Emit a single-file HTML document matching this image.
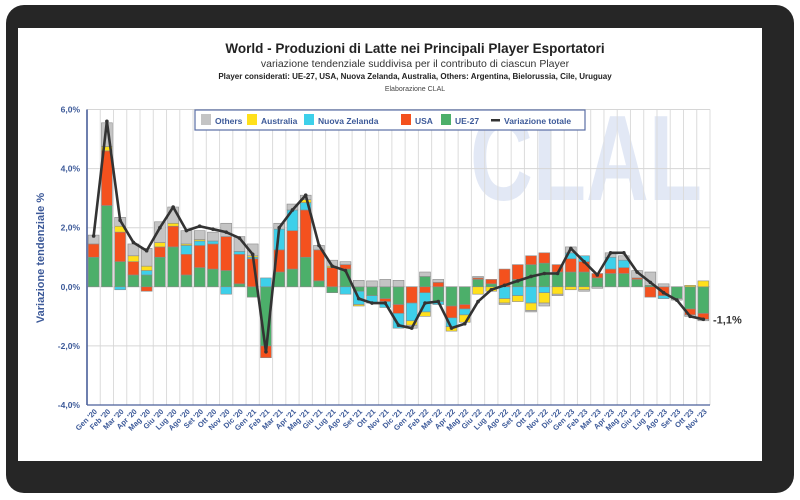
<!DOCTYPE html>
<html><head><meta charset="utf-8">
<style>
body{margin:0;background:#fff;font-family:"Liberation Sans",sans-serif;}
#wrap{position:relative;width:800px;height:500px;overflow:hidden;background:#fff;}
</style></head>
<body>
<div id="wrap">
<svg id="chart" width="800" height="500" viewBox="0 0 800 500">
  <rect x="6" y="5" width="788" height="488" rx="18" fill="#262626"/>
  <rect x="18" y="28" width="744" height="433" fill="#ffffff"/>
  <text x="470" y="200" textLength="232" lengthAdjust="spacingAndGlyphs" font-family="Liberation Sans, sans-serif" font-weight="bold" font-size="122" fill="#e2e8f5">CLAL</text>
  <text x="415" y="53" text-anchor="middle" font-size="13.5" font-weight="bold" fill="#222">World - Produzioni di Latte nei Principali Player Esportatori</text>
  <text x="415" y="67" text-anchor="middle" font-size="10.5" fill="#333">variazione tendenziale suddivisa per il contributo di ciascun Player</text>
  <text x="415" y="79" text-anchor="middle" font-size="8" font-weight="bold" fill="#222">Player considerati: UE-27, USA, Nuova Zelanda, Australia, Others: Argentina, Bielorussia, Cile, Uruguay</text>
  <text x="415" y="91" text-anchor="middle" font-size="7" fill="#444">Elaborazione CLAL</text>
  <g id="grid"></g>
  <g id="bars"></g>
  <g id="line"></g>
  <g id="axes"></g>
  <text x="44" y="258" transform="rotate(-90 44 258)" text-anchor="middle" font-size="11" font-weight="bold" fill="#3d5a99">Variazione tendenziale %</text>
  <g>
    <rect x="195" y="110" width="390" height="20" fill="#fff" stroke="#5a6ea5" stroke-width="1.2"/>
    <g><rect x="201" y="114" width="10" height="11" fill="#c4c4c4"/><text x="215" y="124" font-size="8.5" font-weight="bold" fill="#3d5a99">Others</text></g>
    <g><rect x="247" y="114" width="10" height="11" fill="#ffe01b"/><text x="261" y="124" font-size="8.5" font-weight="bold" fill="#3d5a99">Australia</text></g>
    <g><rect x="304" y="114" width="10" height="11" fill="#3dd0ea"/><text x="318" y="124" font-size="8.5" font-weight="bold" fill="#3d5a99">Nuova Zelanda</text></g>
    <g><rect x="401" y="114" width="10" height="11" fill="#f4511e"/><text x="415" y="124" font-size="8.5" font-weight="bold" fill="#3d5a99">USA</text></g>
    <g><rect x="441" y="114" width="10" height="11" fill="#4caf6a"/><text x="455" y="124" font-size="8.5" font-weight="bold" fill="#3d5a99">UE-27</text></g>
    <g><rect x="491" y="119" width="9" height="2.5" fill="#333"/><text x="504" y="124" font-size="8.5" font-weight="bold" fill="#3d5a99">Variazione totale</text></g>
  </g>
  <text id="lastLabel" x="713" y="323" font-size="11" font-weight="bold" fill="#333">-1,1%</text>
</svg>
</div>
<script>
const categories = ["Gen '20","Feb '20","Mar '20","Apr '20","Mag '20","Giu '20","Lug '20","Ago '20","Set '20","Ott '20","Nov '20","Dic '20",
"Gen '21","Feb '21","Mar '21","Apr '21","Mag '21","Giu '21","Lug '21","Ago '21","Set '21","Ott '21","Nov '21","Dic '21",
"Gen '22","Feb '22","Mar '22","Apr '22","Mag '22","Giu '22","Lug '22","Ago '22","Set '22","Ott '22","Nov '22","Dic '22",
"Gen '23","Feb '23","Mar '23","Apr '23","Mag '23","Giu '23","Lug '23","Ago '23","Set '23","Ott '23","Nov '23"];
const ue27 = [1.0,2.75,0.85,0.4,0.4,1.0,1.35,0.4,0.65,0.6,0.55,0.1,
-0.35,-2.0,0.5,0.6,1.0,0.2,-0.2,0.6,-0.15,-0.3,-0.4,-0.6,
0,0.35,-0.5,-0.65,-0.6,0.25,0.1,0,0.25,0.75,0.8,0.5,
0.5,0.5,0.3,0.45,0.45,0.25,0.05,0,-0.4,-0.75,-0.9];
const usa = [0.45,1.85,1.0,0.45,-0.15,0.35,0.7,0.7,0.75,0.85,1.15,1.0,
0.95,-0.4,0.75,1.3,1.6,1.05,0.65,0.15,0,0,-0.1,-0.3,
-0.55,-0.2,0.15,-0.4,-0.15,0.05,0.15,0.6,0.5,0.3,0.35,0.25,
0.45,0.35,0.15,0.15,0.2,0.05,-0.35,-0.3,0,-0.2,-0.2];
const nz = [0,0,-0.1,0,0.15,0,0,0.3,0.15,0.1,-0.25,0.1,
0.05,0.3,0.7,0.7,0.25,0,0,-0.25,-0.45,-0.25,-0.2,-0.5,
-0.6,-0.65,-0.1,-0.3,-0.2,0,0,-0.4,-0.3,-0.55,-0.2,0,
0.2,0.2,0,0.4,0.25,0,0,-0.1,0,0,0];
const australia = [0,0.15,0.2,0.2,0.15,0.15,0.1,0.05,0.05,0,0,0,
0.05,0,0,0,0.1,0,0.05,0,-0.05,0,0,0,
-0.15,-0.15,0,-0.15,-0.25,-0.25,-0.15,-0.15,-0.2,-0.25,-0.35,-0.25,
-0.1,-0.1,0,0,0,0,0,0,0,0.05,0.2];
const others = [0.3,0.8,0.3,0.4,0.6,0.7,0.55,0.45,0.3,0.3,0.45,0.5,
0.4,0,0.2,0.2,0.15,0.15,0.2,0.1,0.22,0.2,0.25,0.22,
-0.1,0.15,0.1,0,0,0.05,0,-0.05,0,-0.05,-0.1,-0.05,
0.2,-0.05,-0.05,0.15,0.15,0.25,0.45,0.1,-0.05,-0.05,-0.05];
const totale = [1.72,5.6,2.25,1.5,1.22,2.0,2.7,1.9,2.05,1.95,1.85,1.65,
1.1,-2.2,2.0,2.6,3.1,1.4,0.7,0.55,-0.4,-0.55,-0.55,-1.3,
-1.4,-0.55,-0.5,-1.4,-1.25,-0.5,-0.1,0.05,0.2,0.35,0.45,0.45,
1.3,0.85,0.4,1.15,1.15,0.5,0.15,-0.2,-0.45,-1.0,-1.1];
const yTicks = [6,4,2,0,-2,-4];
const yTickLabels = ["6,0%","4,0%","2,0%","0,0%","-2,0%","-4,0%"];

const NS="http://www.w3.org/2000/svg";
const x0=87, x1=710, yTop=109.5, yBot=405, vMax=6, vMin=-4;
const slot=(x1-x0)/categories.length;
function yS(v){return yTop+(vMax-v)/(vMax-vMin)*(yBot-yTop);}
function xS(i){return x0+slot*(i+0.5);}
function mk(tag,attrs,parent){const e=document.createElementNS(NS,tag);for(const k in attrs)e.setAttribute(k,attrs[k]);parent.appendChild(e);return e;}

const grid=document.getElementById('grid'), barsG=document.getElementById('bars'), lineG=document.getElementById('line'), axes=document.getElementById('axes');
for(let i=0;i<=categories.length;i++){
  const l=mk('line',{x1:x0+slot*i,x2:x0+slot*i,y1:yTop,y2:yBot,stroke:'#dcdcdc','stroke-width':1},grid);
  
  
}
yTicks.forEach((v,k)=>{
  const l=mk('line',{x1:x0,x2:x1,y1:yS(v),y2:yS(v),stroke:'#d6d6d6','stroke-width':1},grid);
  
  
  const t=mk('text',{x:80,y:yS(v)+3,'text-anchor':'end','font-size':'8.5','font-weight':'bold',fill:'#3d5a99'},axes);
  t.textContent=yTickLabels[k];
  
  
});
const series=[['ue27',ue27,'#4caf6a'],['usa',usa,'#f4511e'],['nz',nz,'#3dd0ea'],['australia',australia,'#ffe01b'],['others',others,'#c4c4c4']];
const bw=slot*0.82;
categories.forEach((c,i)=>{
  let pos=0,neg=0;
  series.forEach(([nm,arr,col])=>{
    const v=arr[i]; if(!v)return;
    let a,b;
    if(v>0){a=pos;b=pos+v;pos=b;}else{a=neg;b=neg+v;neg=b;}
    const r=mk('rect',{x:xS(i)-bw/2,y:Math.min(yS(a),yS(b)),width:bw,height:Math.abs(yS(a)-yS(b)),fill:col,stroke:'#8a8a8a','stroke-width':0.6},barsG);
    
    
  });
  const t=mk('text',{x:0,y:0,'text-anchor':'end','font-size':'7.5','font-weight':'bold',fill:'#3d5a99',transform:`translate(${xS(i)+4},${yBot+7}) rotate(-45)`},axes);
  t.textContent=c;
  
  
});
const pts=totale.map((v,i)=>xS(i)+','+yS(v)).join(' ');
const pl=mk('polyline',{points:pts,fill:'none',stroke:'#333','stroke-width':2.6,'stroke-linejoin':'round'},lineG);


totale.forEach((v,i)=>{
  const d=mk('circle',{cx:xS(i),cy:yS(v),r:1.8,fill:'#333'},lineG);
  
  
});
document.getElementById('lastLabel').setAttribute('y',yS(totale[totale.length-1])+4);
const ya=mk('line',{x1:x0,x2:x0,y1:yTop,y2:yBot,stroke:'#4a5f9a','stroke-width':1.6},axes);


const xa=mk('line',{x1:x0,x2:x1,y1:yBot,y2:yBot,stroke:'#4a5f9a','stroke-width':1.2},axes);


</script>
</body></html>
